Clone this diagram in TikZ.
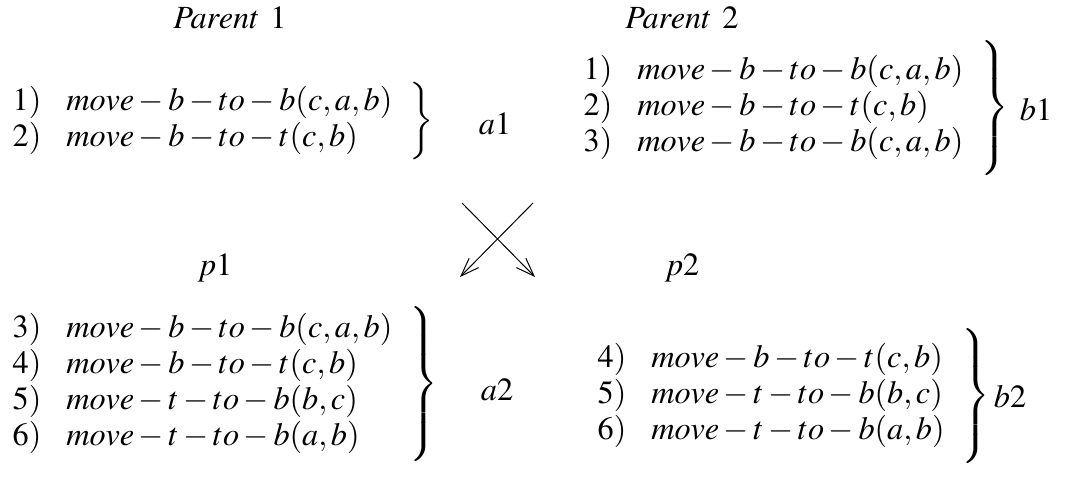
\documentclass[tikz,border=0pt]{standalone}
\usepackage{amsmath}
\usepackage{mathptmx}
\usepackage{tikz}
\usetikzlibrary{arrows.meta}
\renewcommand{\arraystretch}{0.93}
\newcommand{\bracereach}[1]{\vcenter{\hbox{\rule{0pt}{#1}}}}

\begin{document}
\begin{tikzpicture}[x=0.3pt, y=-0.3pt,
    every node/.style={font=\fontsize{9.7}{11.64}\selectfont},
    list/.style={anchor=west, inner sep=0pt},
    tag/.style={inner sep=0pt},
    swap/.style={line width=0.3pt, -{Straight Barb[length=5.5pt, width=4pt]}}]
  \useasboundingbox (0,0) rectangle (1065,501);
  \node[tag] (parent1) at (230,18) {$Parent\ 1$};
  \node[tag] (parent2) at (682,18) {$Parent\ 2$};
  \node[list] (genesa1) at (8,121) {$\left.\begin{array}{@{}l@{\hspace{7.5pt}}l}
      1) & move-b-to-b(c,a,b)\\
      2) & move-b-to-t(c,b)
    \end{array}\bracereach{24pt}\right\}$};
  \node[tag] (a1) at (495,124) {$a1$};
  \node[list] (genesb1) at (579,108) {$\left.\begin{array}{@{}l@{\hspace{7.5pt}}l}
      1) & move-b-to-b(c,a,b)\\
      2) & move-b-to-t(c,b)\\
      3) & move-b-to-b(c,a,b)
    \end{array}\bracereach{40pt}\right\}$};
  \node[tag] (b1) at (1036,110) {$b1$};
  \coordinate (cross1s) at (462,203);
  \coordinate (cross1e) at (535,277);
  \coordinate (cross2s) at (533,203);
  \coordinate (cross2e) at (460,277);
  \draw[swap] (cross1s) -- (cross1e);
  \draw[swap] (cross2s) -- (cross2e);
  \node[tag] (p1) at (215,268) {$p1$};
  \node[tag] (p2) at (682,268) {$p2$};
  \node[list] (genesa2) at (8,384) {$\left.\begin{array}{@{}l@{\hspace{7.5pt}}l}
      3) & move-b-to-b(c,a,b)\\
      4) & move-b-to-t(c,b)\\
      5) & move-t-to-b(b,c)\\
      6) & move-t-to-b(a,b)
    \end{array}\bracereach{51pt}\right\}$};
  \node[tag] (a2) at (497,390) {$a2$};
  \node[list] (genesb2) at (593,396) {$\left.\begin{array}{@{}l@{\hspace{7.5pt}}l}
      4) & move-b-to-t(c,b)\\
      5) & move-t-to-b(b,c)\\
      6) & move-t-to-b(a,b)
    \end{array}\bracereach{39pt}\right\}$};
  \node[tag] (b2) at (1010,397) {$b2$};
\end{tikzpicture}
\end{document}
